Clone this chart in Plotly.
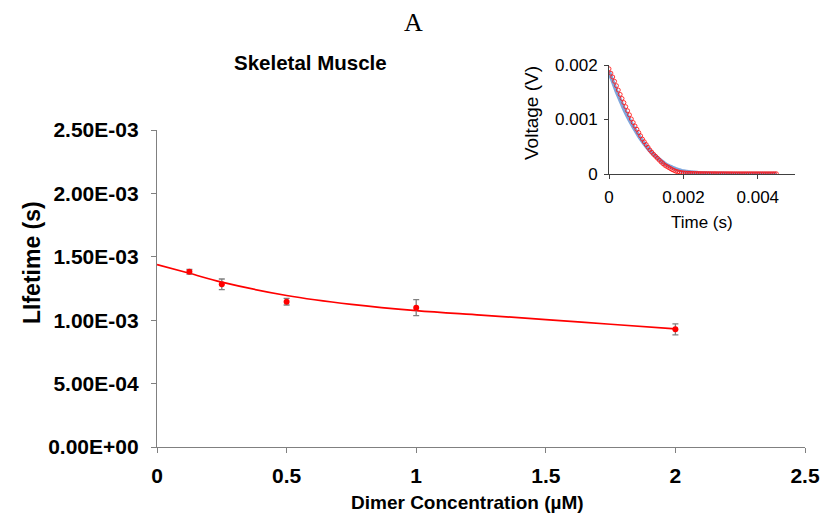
import plotly.graph_objects as go

# Main chart data
conc = [0.125, 0.25, 0.5, 1.0, 2.0]
lifetime = [1.382e-3, 1.283e-3, 1.146e-3, 1.099e-3, 0.928e-3]
lifetime_err = [0.018e-3, 0.042e-3, 0.026e-3, 0.063e-3, 0.043e-3]

fit_x = [0, 0.125, 0.25, 0.5, 0.75, 1.0, 1.25, 1.5, 1.75, 2.0]
fit_y = [1.438e-3, 1.37e-3, 1.30e-3, 1.195e-3, 1.125e-3, 1.075e-3, 1.04e-3, 1.005e-3, 0.968e-3, 0.932e-3]

x_ticks = [0, 0.5, 1, 1.5, 2, 2.5]
x_tick_labels = ["0", "0.5", "1", "1.5", "2", "2.5"]
y_ticks = [0, 0.5e-3, 1.0e-3, 1.5e-3, 2.0e-3, 2.5e-3]
y_tick_labels = ["0.00E+00", "5.00E-04", "1.00E-03", "1.50E-03", "2.00E-03", "2.50E-03"]

# Inset data: time in ms (converted to s below), voltage in mV (converted to V below)
t_red_ms = [0.00, 0.05, 0.10, 0.15, 0.20, 0.25, 0.30, 0.35, 0.40, 0.45,
            0.50, 0.55, 0.60, 0.65, 0.70, 0.75, 0.80, 0.85, 0.90, 0.95,
            1.00, 1.05, 1.10, 1.15, 1.20, 1.25, 1.30, 1.35, 1.40, 1.45,
            1.50, 1.55, 1.60, 1.65, 1.70, 1.75, 1.80, 1.85, 1.90, 1.95,
            2.00, 2.05, 2.10, 2.15, 2.20, 2.25, 2.30, 2.35, 2.40, 2.45,
            2.50, 2.55, 2.60, 2.65, 2.70, 2.75, 2.80, 2.85, 2.90, 2.95,
            3.00, 3.05, 3.10, 3.15, 3.20, 3.25, 3.30, 3.35, 3.40, 3.45,
            3.50, 3.55, 3.60, 3.65, 3.70, 3.75, 3.80, 3.85, 3.90, 3.95,
            4.00, 4.05, 4.10, 4.15, 4.20, 4.25, 4.30, 4.35, 4.40, 4.45, 4.50]
v_red_mv = [1.93, 1.85, 1.78, 1.70, 1.62, 1.54, 1.46, 1.385, 1.31, 1.235,
            1.16, 1.085, 1.01, 0.945, 0.88, 0.82, 0.76, 0.70, 0.64, 0.59,
            0.54, 0.49, 0.44, 0.40, 0.36, 0.325, 0.29, 0.255, 0.22, 0.19,
            0.16, 0.14, 0.12, 0.10, 0.08, 0.065, 0.05, 0.04, 0.03, 0.025,
            0.02, 0.017, 0.015, 0.013, 0.012, 0.011, 0.010, 0.009, 0.008, 0.008,
            0.007, 0.007, 0.007, 0.006, 0.006, 0.006, 0.006, 0.006, 0.005, 0.005,
            0.005, 0.005, 0.005, 0.005, 0.005, 0.005, 0.005, 0.004, 0.004, 0.004,
            0.004, 0.004, 0.004, 0.004, 0.004, 0.004, 0.004, 0.004, 0.004, 0.004,
            0.004, 0.004, 0.004, 0.004, 0.004, 0.004, 0.004, 0.004, 0.004, 0.004, 0.004]
t_blue_ms = [0.0, 0.1, 0.2, 0.3, 0.4, 0.5, 0.6, 0.7, 0.8, 0.9,
             1.0, 1.1, 1.2, 1.3, 1.4, 1.5, 1.6, 1.7, 1.8, 1.9,
             2.0, 2.2, 2.4, 2.6, 2.8, 3.0, 3.4, 3.8, 4.2, 4.5]
v_blue_mv = [1.88, 1.70, 1.52, 1.36, 1.20, 1.06, 0.93, 0.81, 0.70, 0.60,
             0.51, 0.43, 0.36, 0.30, 0.24, 0.19, 0.15, 0.12, 0.09, 0.07,
             0.05, 0.03, 0.02, 0.014, 0.01, 0.007, 0.005, 0.004, 0.004, 0.004]

inset_x_ticks = [0, 0.002, 0.004]
inset_x_labels = ["0", "0.002", "0.004"]
inset_y_ticks = [0, 0.001, 0.002]
inset_y_labels = ["0", "0.001", "0.002"]

t_red = [t / 1000 for t in t_red_ms]
v_red = [v / 1000 for v in v_red_mv]
t_blue = [t / 1000 for t in t_blue_ms]
v_blue = [v / 1000 for v in v_blue_mv]

W, H = 825, 517
def px(x):
    return x / W
def py(y):
    return 1 - y / H

FONT = "Liberation Sans, Arial, sans-serif"
AXIS_GRAY = "#808080"

fig = go.Figure()

fig.add_trace(go.Scatter(
    x=fit_x, y=fit_y, mode="lines", line=dict(color="#ff0000", width=1.7, shape="spline"),
    xaxis="x", yaxis="y", hoverinfo="skip"))
fig.add_trace(go.Scatter(
    x=conc, y=lifetime, mode="markers",
    marker=dict(color="#ff0000", size=6),
    error_y=dict(type="data", array=lifetime_err, color="#808080", thickness=1.3, width=3),
    xaxis="x", yaxis="y"))

fig.add_trace(go.Scatter(
    x=t_blue, y=v_blue, mode="lines", line=dict(color="#7fa6dc", width=4, shape="spline"),
    xaxis="x2", yaxis="y2", hoverinfo="skip"))
fig.add_trace(go.Scatter(
    x=t_red, y=v_red, mode="markers",
    marker=dict(color="rgba(255,20,20,0.85)", size=4, symbol="circle-open", line=dict(width=1)),
    xaxis="x2", yaxis="y2"))

fig.update_layout(
    width=W, height=H,
    margin=dict(l=0, r=0, t=0, b=0, autoexpand=False),
    paper_bgcolor="white", plot_bgcolor="rgba(0,0,0,0)",
    showlegend=False,
    font=dict(family=FONT, color="#000000"),
    xaxis=dict(
        domain=[px(157), px(805)], range=[0, 2.5], tickvals=x_ticks, ticktext=x_tick_labels,
        showgrid=False, zeroline=False, showline=True, linecolor=AXIS_GRAY, linewidth=1.3,
        ticks="outside", ticklen=5, tickcolor=AXIS_GRAY, tickwidth=1.3, ticklabelstandoff=5,
        tickfont=dict(size=21, family=FONT, weight="bold"), anchor="y", fixedrange=True,
        automargin=False),
    yaxis=dict(
        domain=[py(447), py(130)], range=[0, 2.5e-3], tickvals=y_ticks, ticktext=y_tick_labels,
        showgrid=False, zeroline=False, showline=True, linecolor=AXIS_GRAY, linewidth=1.3,
        ticks="outside", ticklen=5, tickcolor=AXIS_GRAY, tickwidth=1.3, ticklabelstandoff=8,
        tickfont=dict(size=21, family=FONT, weight="bold"), anchor="x", fixedrange=True,
        automargin=False),
    xaxis2=dict(
        domain=[px(609), px(795)], range=[0, 0.005], tickvals=inset_x_ticks, ticktext=inset_x_labels,
        showgrid=False, zeroline=False, showline=True, linecolor="#404040", linewidth=1,
        ticks="outside", ticklen=4, tickcolor="#404040", ticklabelstandoff=4,
        tickfont=dict(size=17, family=FONT), anchor="y2", fixedrange=True, automargin=False),
    yaxis2=dict(
        domain=[py(174), py(65)], range=[0, 0.002], tickvals=inset_y_ticks, ticktext=inset_y_labels,
        showgrid=False, zeroline=False, showline=True, linecolor="#404040", linewidth=1,
        ticks="outside", ticklen=4, tickcolor="#404040", ticklabelstandoff=3,
        tickfont=dict(size=17, family=FONT), anchor="x2", fixedrange=True, automargin=False),
    annotations=[
        dict(text="A", x=px(413), y=py(23), xref="paper", yref="paper", showarrow=False,
             xanchor="center", yanchor="middle",
             font=dict(family="Liberation Serif, Times New Roman, serif", size=26)),
        dict(text="<b>Skeletal Muscle</b>", x=px(310), y=py(62), xref="paper", yref="paper",
             xanchor="center", yanchor="middle", showarrow=False, font=dict(size=20.5)),
        dict(text="<b>Dimer Concentration (µM)</b>", x=px(467), y=py(502), xref="paper", yref="paper",
             xanchor="center", yanchor="middle", showarrow=False, font=dict(size=19)),
        dict(text="<b>LIfetime (s)</b>", x=px(32), y=py(263), xref="paper", yref="paper",
             xanchor="center", yanchor="middle", showarrow=False, textangle=-90, font=dict(size=23)),
        dict(text="Voltage (V)", x=px(531), y=py(113), xref="paper", yref="paper",
             xanchor="center", yanchor="middle", showarrow=False, textangle=-90, font=dict(size=19)),
        dict(text="Time (s)", x=px(702), y=py(223), xref="paper", yref="paper",
             xanchor="center", yanchor="middle", showarrow=False, font=dict(size=17)),
    ],
)

fig.write_html("out.html")
